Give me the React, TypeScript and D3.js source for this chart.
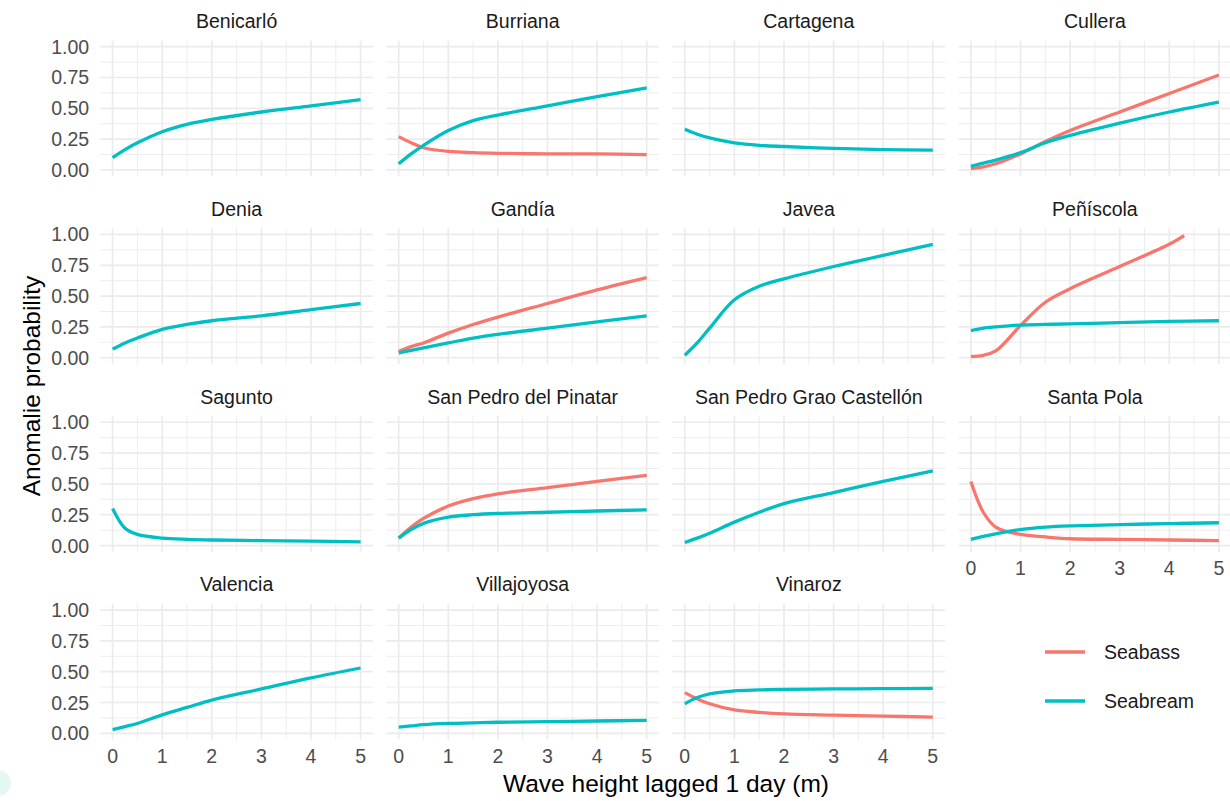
import React, { useEffect } from "react";
import { scaleLinear, line, curveCatmullRom, range } from "d3";

// facet order (facet_wrap, 4 columns)
const sites = [
  "Benicarló", "Burriana", "Cartagena", "Cullera",
  "Denia", "Gandía", "Javea", "Peñíscola",
  "Sagunto", "San Pedro del Pinatar", "San Pedro Grao Castellón", "Santa Pola",
  "Valencia", "Villajoyosa", "Vinaroz",
];

// wave height (m) where the curves were read
const waveX = [0, 0.25, 0.5, 1, 1.5, 2, 3, 4, 5];
// Peñíscola seabass stops before 5 m
const peniscolaBassX = [0, 0.25, 0.5, 1, 1.5, 2, 3, 4, 4.3];

// anomalie probability, null = species not modelled at that site
const seabass: (number[] | null)[] = [
  null,
  [0.27, 0.22, 0.18, 0.15, 0.14, 0.135, 0.13, 0.13, 0.125],
  null,
  [0.01, 0.025, 0.05, 0.13, 0.23, 0.32, 0.47, 0.62, 0.77],
  null,
  [0.05, 0.09, 0.12, 0.2, 0.27, 0.33, 0.44, 0.55, 0.65],
  null,
  [0.01, 0.02, 0.055, 0.26, 0.45, 0.56, 0.74, 0.92, 0.99],
  null,
  [0.06, 0.15, 0.22, 0.32, 0.38, 0.42, 0.47, 0.52, 0.57],
  null,
  [0.52, 0.27, 0.15, 0.09, 0.07, 0.055, 0.05, 0.045, 0.04],
  null,
  null,
  [0.33, 0.28, 0.24, 0.19, 0.17, 0.158, 0.148, 0.14, 0.132],
];

const seabream: (number[] | null)[] = [
  [0.1, 0.165, 0.22, 0.31, 0.37, 0.41, 0.47, 0.52, 0.57],
  [0.05, 0.13, 0.2, 0.32, 0.4, 0.445, 0.52, 0.595, 0.665],
  [0.33, 0.29, 0.26, 0.22, 0.2, 0.19, 0.175, 0.165, 0.16],
  [0.03, 0.055, 0.08, 0.14, 0.22, 0.28, 0.38, 0.47, 0.55],
  [0.07, 0.12, 0.16, 0.23, 0.27, 0.3, 0.34, 0.39, 0.44],
  [0.04, 0.06, 0.08, 0.12, 0.16, 0.19, 0.24, 0.29, 0.34],
  [0.02, 0.12, 0.24, 0.47, 0.58, 0.64, 0.74, 0.83, 0.92],
  [0.22, 0.24, 0.25, 0.265, 0.27, 0.275, 0.285, 0.295, 0.3],
  [0.3, 0.14, 0.09, 0.06, 0.05, 0.045, 0.04, 0.035, 0.03],
  [0.06, 0.13, 0.18, 0.23, 0.25, 0.26, 0.27, 0.28, 0.29],
  [0.025, 0.06, 0.1, 0.19, 0.27, 0.34, 0.43, 0.52, 0.605],
  [0.05, 0.075, 0.095, 0.13, 0.15, 0.16, 0.17, 0.178, 0.185],
  [0.03, 0.055, 0.08, 0.15, 0.21, 0.27, 0.36, 0.45, 0.53],
  [0.05, 0.06, 0.07, 0.08, 0.085, 0.09, 0.095, 0.1, 0.105],
  [0.24, 0.29, 0.32, 0.345, 0.352, 0.356, 0.36, 0.362, 0.364],
];

const species = ["Seabass", "Seabream"];
const colors = ["#F8766D", "#00BFC4"];
const xTicks = [0, 1, 2, 3, 4, 5];
const yTicks = [0, 0.25, 0.5, 0.75, 1];
const yTickLabels = ["0.00", "0.25", "0.50", "0.75", "1.00"];

const W = 1230;
const H = 801;
const nCol = 4;
const panelW = 272.8;
const panelH = 135.6;
const colStep = 286.1;
const rowStep = 187.8;
const left0 = 100.2;
const top0 = 40.5;
const font = "'Liberation Sans', Arial, Helvetica, sans-serif";

function Panel({ idx }: { idx: number }) {
  const col = idx % nCol;
  const row = Math.floor(idx / nCol);
  const left = left0 + col * colStep;
  const top = top0 + row * rowStep;
  const x = scaleLinear().domain([-0.25, 5.25]).range([left, left + panelW]);
  const y = scaleLinear().domain([-0.05, 1.05]).range([top + panelH, top]);
  const path = line<[number, number]>()
    .x((d) => x(d[0]))
    .y((d) => y(d[1]))
    .curve(curveCatmullRom.alpha(0.5));

  // bottom panel of its column gets the x labels
  const showX = idx + nCol >= sites.length;
  const showY = col === 0;

  const series = [seabass[idx], seabream[idx]];

  return (
    <g>
      {/* minor grid */}
      {range(0.5, 5, 1).map((v) => (
        <line key={"mx" + v} x1={x(v)} x2={x(v)} y1={top} y2={top + panelH}
          stroke="#EBEBEB" strokeWidth={0.9} />
      ))}
      {[0.125, 0.375, 0.625, 0.875].map((v) => (
        <line key={"my" + v} x1={left} x2={left + panelW} y1={y(v)} y2={y(v)}
          stroke="#EBEBEB" strokeWidth={0.9} />
      ))}
      {/* major grid */}
      {xTicks.map((v) => (
        <line key={"gx" + v} x1={x(v)} x2={x(v)} y1={top} y2={top + panelH}
          stroke="#EBEBEB" strokeWidth={1.7} />
      ))}
      {yTicks.map((v) => (
        <line key={"gy" + v} x1={left} x2={left + panelW} y1={y(v)} y2={y(v)}
          stroke="#EBEBEB" strokeWidth={1.7} />
      ))}

      {series.map((vals, s) => {
        if (!vals) return null;
        const xs = idx === 7 && s === 0 ? peniscolaBassX : waveX;
        const pts = vals.map((v, i) => [xs[i], v] as [number, number]);
        return (
          <path key={s} d={path(pts) || ""} fill="none" stroke={colors[s]}
            strokeWidth={3.3} strokeLinecap="butt" strokeLinejoin="round" />
        );
      })}

      <text x={left + panelW / 2} y={top - 12.5} textAnchor="middle"
        fontSize={19.5} fill="#1A1A1A">{sites[idx]}</text>

      {showY && yTicks.map((v, i) => (
        <text key={"yl" + v} x={left - 11} y={y(v)} textAnchor="end"
          dominantBaseline="central" fontSize={19.5} fill="#4D4D4D">{yTickLabels[i]}</text>
      ))}
      {showX && xTicks.map((v) => (
        <text key={"xl" + v} x={x(v)} y={top + panelH + 23} textAnchor="middle"
          fontSize={19.5} fill="#4D4D4D">{v}</text>
      ))}
    </g>
  );
}

export default function App() {
  useEffect(() => {
    document.body.style.margin = "0";
  }, []);

  return (
    <svg width={W} height={H} style={{ display: "block", background: "#fff" }}
      fontFamily={font}>
      <rect width={W} height={H} fill="#fff" />
      <circle cx={-2} cy={783} r={13} fill="#E3F8F3" />
      {sites.map((_, i) => (
        <Panel key={i} idx={i} />
      ))}

      <text transform="translate(40,386) rotate(-90)" textAnchor="middle"
        fontSize={24.5} fill="#000">Anomalie probability</text>
      <text x={666} y={792} textAnchor="middle" fontSize={24.5} fill="#000">
        Wave height lagged 1 day (m)
      </text>

      {species.map((s, i) => (
        <g key={s}>
          <line x1={1045} x2={1085} y1={652 + i * 49} y2={652 + i * 49}
            stroke={colors[i]} strokeWidth={3.5} />
          <text x={1104} y={659 + i * 49} fontSize={19.5} fill="#1A1A1A"
            dominantBaseline="auto">{s}</text>
        </g>
      ))}
    </svg>
  );
}
